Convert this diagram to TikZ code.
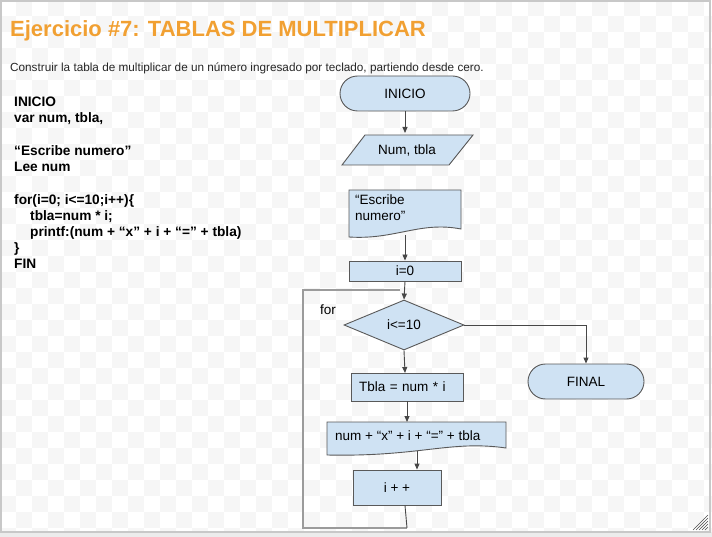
\documentclass[tikz,border=0pt]{standalone}
\usepackage{fontspec}
\setmainfont{Liberation Sans}
\usetikzlibrary{arrows.meta,shapes.misc,shapes.geometric}
\definecolor{boxfill}{RGB}{207,226,243}
\definecolor{boxline}{RGB}{89,89,89}
\definecolor{titleor}{RGB}{241,160,50}
\definecolor{checker}{RGB}{246,246,246}
\definecolor{frame}{RGB}{200,200,200}
\tikzset{
  shp/.style={draw=boxline, fill=boxfill, line width=0.9pt},
  box/.style={shp, inner sep=0pt, font=\fontsize{13.5}{16}\selectfont},
  term/.style={box, rounded rectangle},
  plain/.style={inner sep=0pt, font=\fontsize{13.5}{16}\selectfont},
  arr/.style={draw=boxline!80!black, line width=0.9pt, -{Triangle[length=6pt,width=5pt]}},
  conn/.style={draw=boxline!80!black, line width=0.9pt},
  loopline/.style={draw=boxline!60, line width=1.6pt},
  code/.style={anchor=base west, inner sep=0pt, font=\fontsize{13.7}{16}\selectfont\bfseries}
}
\begin{document}
\begin{tikzpicture}[x=1pt,y=-1pt]
\useasboundingbox (0,0) rectangle (712,537);
% background checkerboard
\fill[white] (0,0) rectangle (712,537);
\foreach \i in {0,...,44}{
  \foreach \j in {0,...,33}{
    \pgfmathtruncatemacro{\odd}{mod(\i+\j,2)}
    \ifnum\odd=1
      \fill[checker] (\i*16,\j*16) rectangle ++(16,16);
    \fi
  }
}
% bottom strip and frame
\fill[gray!15] (0,532) rectangle (712,537);
\draw[frame, line width=1.2pt] (1,1) -- (710,1) -- (710,532) -- (1,532) -- cycle;
% resize grip
\foreach \k in {0,3,6,9,12,15}{
  \draw[black!70, line width=0.6pt] (708-\k,530) -- (708,530-\k);
}
% title and subtitle
\node[anchor=base west, inner sep=0pt, text=titleor, font=\fontsize{22}{26}\selectfont\bfseries] (title) at (10,37) {Ejercicio \#7: TABLAS DE MULTIPLICAR};
\node[anchor=base west, inner sep=0pt, text=black!85, font=\fontsize{11.75}{14}\selectfont] (sub) at (10,72) {Construir la tabla de multiplicar de un número ingresado por teclado, partiendo desde cero.};
% pseudocode
\node[code] (c1) at (14,107) {INICIO};
\node[code] (c2) at (14,123) {var num, tbla,};
\node[code] (c3) at (14,156) {“Escribe numero”};
\node[code] (c4) at (14,172) {Lee num};
\node[code] (c5) at (14,205) {for(i=0; i<=10;i++)\{};
\node[code] (c6) at (30,221) {tbla=num * i;};
\node[code] (c7) at (30,237) {printf:(num + “x” + i + “=” + tbla)};
\node[code] (c8) at (14,253) {\}};
\node[code] (c9) at (14,269) {FIN};
% flowchart
\node[term, minimum width=130pt, minimum height=35pt] (inicio) at (405,93.5) {INICIO};
\node[plain, minimum width=108pt, minimum height=30pt] (param) at (407,150) {};
\draw[shp] (365,135) -- (473,135) -- (449,165) -- (342,165) -- cycle;
\node[plain] at (param) {Num, tbla};
% document shape Escribe numero
\draw[shp] (349,190) -- (461,190) -- (461,229) .. controls (420,221) and (395,240) .. (349,237) -- cycle;
\node[plain, anchor=north west, align=left] (esc) at (355,195) {“Escribe\\numero”};
\node[box, minimum width=112pt, minimum height=20pt] (i0) at (405,271) {i=0};
\node[box, diamond, aspect=2.4, minimum width=120pt, minimum height=50pt] (dia) at (404,325) {i<=10};
\node[term, minimum width=116pt, minimum height=35pt] (final) at (586,381.5) {FINAL};
\node[box, text width=96pt, align=left, inner xsep=8pt, minimum height=28pt] (tbla) at (407,387) {Tbla = num * i};
% printf document
\draw[shp] (327,422) -- (506,422) -- (506,448) .. controls (450,440) and (420,457) .. (327,455) -- cycle;
\node[plain, anchor=west] (prn) at (335,436) {num + “x” + i + “=” + tbla};
\node[box, minimum width=88pt, minimum height=35pt] (ipp) at (397,487.5) {i + +};
% connectors
\draw[arr] (inicio.south) -- (405,133);
\draw[arr] (405,235) -- (i0.north -| 405,0);
\draw[arr] (i0.south) -- (dia.north);
\draw[arr] (dia.south) -- (405,373);
\draw[arr] (dia.east) -| (final.north);
\draw[arr] (407,401) -- (407,422);
\draw[arr] (417,451) -- (ipp.north -| 417,0);
% loop
\coordinate (lt) at (303,290);
\coordinate (ltr) at (400,290);
\coordinate (lb) at (303,528);
\coordinate (lbr) at (407,528);
\draw[loopline] (ltr) -- (lt) -- (lb) -- (lbr);
\draw[conn] (ipp.south -| 405,0) -- (lbr);
\node[plain, anchor=base west] (for) at (320,314) {for};
\end{tikzpicture}
\end{document}
